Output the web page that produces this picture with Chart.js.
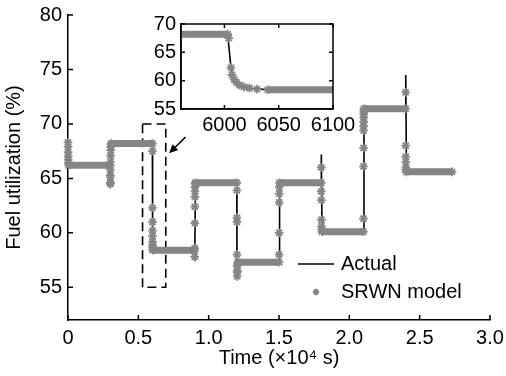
<!DOCTYPE html>
<html>
<head>
<meta charset="utf-8">
<script src="https://cdn.jsdelivr.net/npm/chart.js@4.4.1/dist/chart.umd.min.js"></script>
<style>
  html, body { margin: 0; padding: 0; background: #fff; }
  #wrap { position: relative; width: 506px; height: 376px; overflow: hidden; }
  #main { position: absolute; left: 0; top: 0; }
  #inset { position: absolute; left: 130px; top: 0; }
</style>
</head>
<body>
<div id="wrap">
  <canvas id="main" width="506" height="376"></canvas>
  <canvas id="inset" width="240" height="140"></canvas>
</div>
<script>
// ---- data (time in seconds, fuel utilization in %) ----
const seriesNames = ['Actual', 'SRWN model'];

const actualTime  = [0, 40, 3000, 3010, 3060, 6000, 6003, 6006, 6008, 6012, 6020, 6030, 6045,
                     9000, 9010, 9060, 12000, 12010, 12080, 15000, 15040,
                     18000, 18010, 18060, 21000, 21040, 24000, 24010, 24060, 27300];
const actualValue = [68.3, 66.2, 66.2, 64.1, 68.2, 68.2, 68.2, 62.3, 60.8, 59.5, 58.8, 58.5, 58.4,
                     58.4, 57.4, 64.6, 64.6, 56.0, 57.3, 57.3, 64.6,
                     64.6, 67.2, 60.1, 60.1, 71.4, 71.4, 74.5, 65.6, 65.6];

const modelTime  = [0, 5, 10, 15, 20, 30, 45,
                    3000, 3004, 3008, 3012, 3016, 3020, 3025, 3030, 3036, 3044, 3055, 3070,
                    6003, 6004, 6006, 6007, 6009, 6011, 6014, 6018, 6023, 6030, 6040,
                    9000, 9004, 9008, 9012, 9016, 9020, 9025, 9032, 9045, 9060,
                    12000, 12004, 12008, 12011, 12016, 12020, 12024, 12028, 12036, 12046, 12060,
                    15000, 15004, 15008, 15013, 15018, 15025, 15040,
                    18000, 18004, 18008, 18012, 18018, 18024, 18035, 18050,
                    21000, 21004, 21008, 21011, 21014, 21017, 21020, 21024, 21028, 21034, 21042, 21055,
                    24000, 24004, 24008, 24012, 24016, 24022, 24030, 24045,
                    27300];
const modelValue = [68.3, 67.9, 67.4, 67.0, 66.7, 66.4, 66.2,
                    66.2, 65.3, 64.5, 64.6, 65.1, 65.8, 66.5, 67.1, 67.6, 67.9, 68.1, 68.2,
                    68.2, 67.5, 62.3, 61.0, 60.2, 59.7, 59.2, 58.9, 58.7, 58.5, 58.4,
                    58.4, 57.8, 58.6, 60.9, 62.4, 63.3, 63.8, 64.2, 64.5, 64.6,
                    64.6, 63.9, 61.4, 61.0, 58.0, 57.0, 56.4, 56.0, 56.5, 57.0, 57.3,
                    57.3, 58.0, 60.0, 62.8, 63.6, 64.2, 64.6,
                    64.6, 66.0, 63.8, 63.0, 61.2, 60.6, 60.3, 60.1,
                    60.1, 61.3, 66.1, 67.8, 69.4, 69.8, 70.2, 70.6, 70.9, 71.1, 71.3, 71.4,
                    71.4, 72.9, 68.0, 67.0, 66.5, 66.0, 65.8, 65.6,
                    65.6];

// main axes (time in units of 10^4 s)
const TIME_UNIT = 1e4;
const xTickValues = [0, 0.5, 1.0, 1.5, 2.0, 2.5, 3.0];
const xTickLabels = ['0', '0.5', '1.0', '1.5', '2.0', '2.5', '3.0'];
const yTickValues = [55, 60, 65, 70, 75, 80];

// zoom window marked on the main axes, and the pointer arrow (data units)
const zoomBoxX = [0.53, 0.695];
const zoomBoxY = [55, 70];
const arrowFrom = [0.836, 68.8];
const arrowTo   = [0.718, 67.3];

// inset axes (time in s)
const insetXRange = [5960, 6100];
const insetXTicks = [6000, 6050, 6100];
const insetYTicks = [55, 60, 65, 70];

// ---- styling ----
const FONT = "'Liberation Sans', Arial, Helvetica, sans-serif";
const FS = 20;
const GRAY = '#858585';
Chart.defaults.font.family = FONT;
Chart.defaults.font.size = FS;
Chart.defaults.color = '#000';

const pts = (ts, vs, scale) => ts.map((t, i) => ({ x: t / scale, y: vs[i] }));
const flat = ctx => ctx.p0.parsed.y === ctx.p1.parsed.y;

// settled stretches of the model trace form a thick band, transients show as stars
function modelDataset(scale, radius) {
  return {
    label: seriesNames[1],
    data: pts(modelTime, modelValue, scale),
    showLine: true,
    borderColor: GRAY,
    borderWidth: 7,
    segment: { borderColor: ctx => flat(ctx) ? GRAY : 'rgba(0,0,0,0)' },
    pointStyle: 'star',
    pointRadius: radius,
    pointBorderColor: GRAY,
    pointBackgroundColor: GRAY,
    pointBorderWidth: 1.8,
    order: 0
  };
}
function actualDataset(scale) {
  return {
    label: seriesNames[0],
    data: pts(actualTime, actualValue, scale),
    showLine: true,
    borderColor: '#000',
    borderWidth: 1.6,
    pointRadius: 0,
    order: 1
  };
}

// inward tick marks, optionally mirrored on the opposite sides with a full box
const inwardTicks = {
  id: 'inwardTicks',
  afterDraw(chart, args, o) {
    const { ctx, chartArea: a } = chart;
    const xs = chart.scales.x, ys = chart.scales.y;
    ctx.save();
    ctx.strokeStyle = '#000';
    ctx.lineWidth = o.width;
    ctx.beginPath();
    xs.ticks.forEach(t => {
      const p = xs.getPixelForValue(t.value);
      ctx.moveTo(p, a.bottom); ctx.lineTo(p, a.bottom - o.length);
      if (o.mirror) { ctx.moveTo(p, a.top); ctx.lineTo(p, a.top + o.length); }
    });
    ys.ticks.forEach(t => {
      const p = ys.getPixelForValue(t.value);
      ctx.moveTo(a.left, p); ctx.lineTo(a.left + o.length, p);
      if (o.mirror) { ctx.moveTo(a.right, p); ctx.lineTo(a.right - o.length, p); }
    });
    ctx.stroke();
    if (o.box) ctx.strokeRect(a.left, a.top, a.right - a.left, a.bottom - a.top);
    ctx.restore();
  }
};

// white plot background (the inset sits on top of the main axes)
const areaFill = {
  id: 'areaFill',
  beforeDraw(chart, args, o) {
    if (!o.color) return;
    const { ctx, chartArea: a } = chart;
    ctx.save();
    ctx.fillStyle = o.color;
    ctx.fillRect(a.left, a.top, a.right - a.left, a.bottom - a.top);
    ctx.restore();
  }
};

function drawStar(ctx, x, y, s) {
  ctx.beginPath();
  ctx.moveTo(x - s, y); ctx.lineTo(x + s, y);
  ctx.moveTo(x, y - s); ctx.lineTo(x, y + s);
  ctx.moveTo(x - s * 0.7, y - s * 0.7); ctx.lineTo(x + s * 0.7, y + s * 0.7);
  ctx.moveTo(x - s * 0.7, y + s * 0.7); ctx.lineTo(x + s * 0.7, y - s * 0.7);
  ctx.stroke();
}

// arrow pointing at the zoom window, and the legend inside the axes
const annotations = {
  id: 'annotations',
  afterDraw(chart) {
    const { ctx } = chart;
    const xs = chart.scales.x, ys = chart.scales.y;
    const x0 = xs.getPixelForValue(arrowFrom[0]), y0 = ys.getPixelForValue(arrowFrom[1]);
    const x1 = xs.getPixelForValue(arrowTo[0]),   y1 = ys.getPixelForValue(arrowTo[1]);
    const ang = Math.atan2(y1 - y0, x1 - x0), L = 9, W = 4;
    ctx.save();
    ctx.strokeStyle = '#000'; ctx.fillStyle = '#000'; ctx.lineWidth = 1.6;
    ctx.beginPath();
    ctx.moveTo(x0, y0);
    ctx.lineTo(x1 - Math.cos(ang) * L * 0.8, y1 - Math.sin(ang) * L * 0.8);
    ctx.stroke();
    ctx.beginPath();
    ctx.moveTo(x1, y1);
    ctx.lineTo(x1 - Math.cos(ang) * L - Math.sin(ang) * W, y1 - Math.sin(ang) * L + Math.cos(ang) * W);
    ctx.lineTo(x1 - Math.cos(ang) * L + Math.sin(ang) * W, y1 - Math.sin(ang) * L - Math.cos(ang) * W);
    ctx.closePath();
    ctx.fill();

    // legend
    const lx = 298, tx = 341, r1 = 264, r2 = 292;
    ctx.lineWidth = 1.6;
    ctx.beginPath(); ctx.moveTo(lx, r1); ctx.lineTo(lx + 36, r1); ctx.stroke();
    ctx.strokeStyle = GRAY;
    ctx.lineWidth = 1.8;
    drawStar(ctx, lx + 18, r2, 3.2);
    ctx.fillStyle = '#000';
    ctx.font = FS + 'px ' + FONT;
    ctx.textBaseline = 'middle';
    ctx.textAlign = 'left';
    ctx.fillText(seriesNames[0], tx, r1);
    ctx.fillText(seriesNames[1], tx, r2);
    ctx.restore();
  }
};

function fixSize(prop, size) {
  return s => {
    s[prop] = size;
    s.paddingLeft = s.paddingRight = s.paddingTop = s.paddingBottom = 0;
  };
}

const noGrid = { display: false, drawTicks: false };

// ---- main chart ----
new Chart(document.getElementById('main'), {
  type: 'scatter',
  data: {
    datasets: [
      actualDataset(TIME_UNIT),
      modelDataset(TIME_UNIT, 4.3),
      {
        label: 'zoom window',
        data: [
          { x: zoomBoxX[0], y: zoomBoxY[1] }, { x: zoomBoxX[1], y: zoomBoxY[1] },
          { x: zoomBoxX[1], y: zoomBoxY[0] }, { x: zoomBoxX[0], y: zoomBoxY[0] },
          { x: zoomBoxX[0], y: zoomBoxY[1] }
        ],
        showLine: true,
        borderColor: '#000',
        borderWidth: 1.6,
        borderDash: [9, 5],
        pointRadius: 0,
        order: 2
      }
    ]
  },
  options: {
    responsive: false,
    animation: false,
    clip: false,
    layout: { padding: { top: 15, right: 16, left: 0, bottom: 0 } },
    plugins: {
      legend: { display: false },
      tooltip: { enabled: false },
      inwardTicks: { length: 5, width: 1.5, mirror: false, box: false },
      areaFill: { color: null }
    },
    scales: {
      x: {
        type: 'linear', min: 0, max: 3,
        afterBuildTicks: s => { s.ticks = xTickValues.map(v => ({ value: v })); },
        afterFit: fixSize('height', 56),
        ticks: { padding: 6, maxRotation: 0, callback: (v, i) => xTickLabels[i] },
        grid: noGrid,
        border: { display: true, color: '#000', width: 1.5 },
        title: { display: true, text: 'Time (×10⁴ s)', padding: { top: 0, bottom: 6 } }
      },
      y: {
        type: 'linear', min: 52, max: 80,
        afterBuildTicks: s => { s.ticks = yTickValues.map(v => ({ value: v })); },
        afterFit: fixSize('width', 68),
        ticks: { padding: 6 },
        grid: noGrid,
        border: { display: true, color: '#000', width: 1.5 },
        title: { display: true, text: 'Fuel utilization (%)', padding: { top: 2, bottom: 0 } }
      }
    }
  },
  plugins: [inwardTicks, annotations]
});

// ---- inset: close-up of the step near 6000 s ----
new Chart(document.getElementById('inset'), {
  type: 'scatter',
  data: { datasets: [actualDataset(1), modelDataset(1, 4.3)] },
  options: {
    responsive: false,
    animation: false,
    layout: { padding: { top: 24, right: 37, left: 0, bottom: 0 } },
    plugins: {
      legend: { display: false },
      tooltip: { enabled: false },
      inwardTicks: { length: 4, width: 1.5, mirror: true, box: true },
      areaFill: { color: '#fff' }
    },
    scales: {
      x: {
        type: 'linear', min: insetXRange[0], max: insetXRange[1],
        afterBuildTicks: s => { s.ticks = insetXTicks.map(v => ({ value: v })); },
        afterFit: fixSize('height', 31),
        ticks: { padding: 4, maxRotation: 0, callback: v => String(v) },
        grid: noGrid,
        border: { display: true, color: '#000', width: 1.5 }
      },
      y: {
        type: 'linear', min: 55, max: 70,
        afterBuildTicks: s => { s.ticks = insetYTicks.map(v => ({ value: v })); },
        afterFit: fixSize('width', 51),
        ticks: { padding: 5 },
        grid: noGrid,
        border: { display: true, color: '#000', width: 1.5 }
      }
    }
  },
  plugins: [areaFill, inwardTicks]
});
</script>
</body>
</html>
